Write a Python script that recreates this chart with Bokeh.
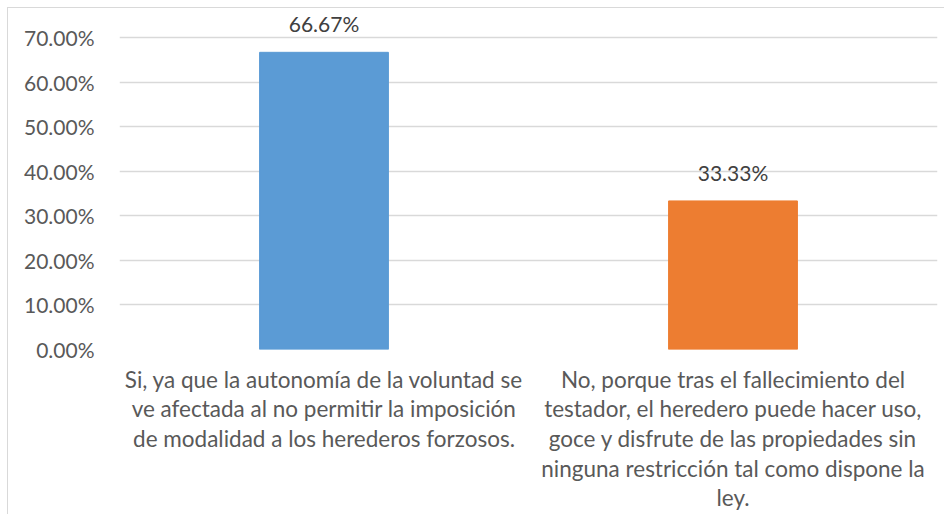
from bokeh.plotting import figure
from bokeh.models import Range1d, FixedTicker, ColumnDataSource, CustomJSTickFormatter
from bokeh.core.properties import value
from bokeh.embed import file_html
from bokeh.resources import INLINE

categories = [
    "Si, ya que la autonomía de la voluntad se\nve afectada al no permitir la imposición\nde modalidad a los herederos forzosos.",
    "No, porque tras el fallecimiento del\ntestador, el heredero puede hacer uso,\ngoce y disfrute de las propiedades sin\nninguna restricción tal como dispone la\nley.",
]
values = [66.67, 33.33]
labels = ["66.67%", "33.33%"]
colors = ["#5B9BD5", "#ED7D31"]
y_ticks = [0, 10, 20, 30, 40, 50, 60, 70]

FONT = "Lato"

src = ColumnDataSource(dict(cat=categories, val=values, lab=labels, col=colors))

p = figure(
    x_range=categories,
    y_range=Range1d(0, 74.93),
    frame_width=818, frame_height=334,
    min_border_left=111, min_border_right=7, min_border_top=7, min_border_bottom=164,
    output_backend="svg", toolbar_location=None,
)
p.styles = {"margin": "7px 0 0 7px", "border-top": "1px solid #d9d9d9", "border-left": "1px solid #d9d9d9"}
p.outline_line_color = None
p.background_fill_color = "white"
p.border_fill_color = "white"

p.vbar(x="cat", top="val", width=0.315, color="col", source=src)
p.text(x="cat", y="val", text="lab", source=src, text_align="center", text_baseline="bottom",
       y_offset=-16, text_font=value(FONT), text_font_size="21px", text_color="#404040")

p.xgrid.grid_line_color = None
p.ygrid.grid_line_color = "#d9d9d9"
p.ygrid.grid_line_width = 1.5
p.yaxis.ticker = FixedTicker(ticks=y_ticks)
p.yaxis.formatter = CustomJSTickFormatter(code="return tick.toFixed(2) + '%';")

for ax in (p.xaxis, p.yaxis):
    ax.axis_line_color = None
    ax.major_tick_line_color = None
    ax.minor_tick_line_color = None
    ax.major_label_text_font = FONT
    ax.major_label_text_color = "#595959"

p.yaxis.major_label_text_font_size = "21px"
p.xaxis.major_label_text_font_size = "22.5px"
p.yaxis.major_label_standoff = 19
p.xaxis.major_label_standoff = 10
p.xaxis.major_label_text_line_height = 1.1

open("out.html", "w").write(file_html(p, INLINE))
